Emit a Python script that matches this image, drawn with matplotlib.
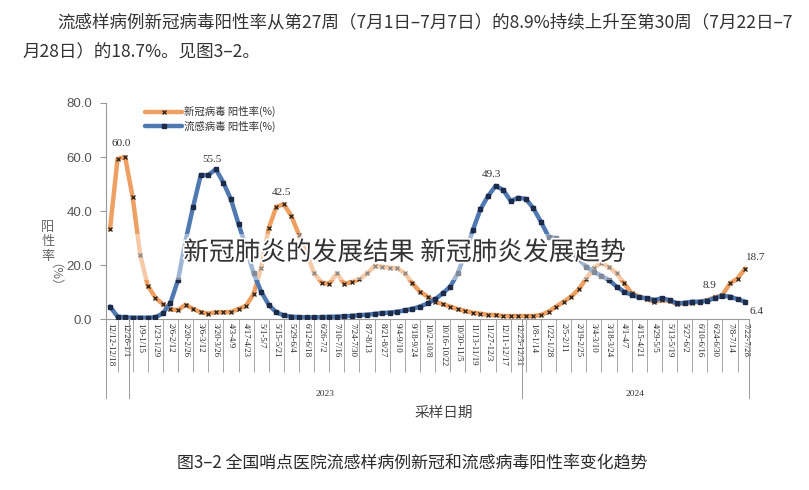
import matplotlib.pyplot as plt
import matplotlib.patheffects as pe
from matplotlib.lines import Line2D
from matplotlib.patches import Rectangle

plt.rcParams['font.family'] = ['Noto Sans CJK SC', 'DejaVu Sans']

# weekly labels (every second week is shown on the axis)
week_labels = ['12/12-12/18', '12/26-1/1', '1/9-1/15', '1/23-1/29', '2/6-2/12', '2/20-2/26',
               '3/6-3/12', '3/20-3/26', '4/3-4/9', '4/17-4/23', '5/1-5/7', '5/15-5/21',
               '5/29-6/4', '6/12-6/18', '6/26-7/2', '7/10-7/16', '7/24-7/30', '8/7-8/13',
               '8/21-8/27', '9/4-9/10', '9/18-9/24', '10/2-10/8', '10/16-10/22', '10/30-11/5',
               '11/13-11/19', '11/27-12/3', '12/11-12/17', '12/25-12/31', '1/8-1/14', '1/22-1/28',
               '2/5-2/11', '2/19-2/25', '3/4-3/10', '3/18-3/24', '4/1-4/7', '4/15-4/21',
               '4/29-5/5', '5/13-5/19', '5/27-6/2', '6/10-6/16', '6/24-6/30', '7/8-7/14',
               '7/22-7/28']

# positivity rates (%), 85 weeks from 2022-12-12 to 2024-07-28
covid_rate = [33.2, 59.3, 60.0, 45.1, 23.7, 12.3, 7.9, 5.5, 3.6, 3.3,
              5.3, 3.7, 2.5, 2.0, 2.5, 2.5, 2.6, 3.7, 4.9, 9.3,
              19.0, 33.7, 41.6, 42.5, 38.1, 31.1, 24.6, 16.9, 13.5, 13.0,
              16.9, 13.0, 13.8, 14.7, 16.9, 19.6, 19.4, 19.0, 18.8, 16.9,
              13.2, 10.1, 8.3, 6.4, 5.5, 4.6, 3.6, 3.0, 2.3, 2.0,
              1.5, 1.5, 1.1, 1.1, 1.1, 1.1, 1.1, 1.5, 2.7, 4.6,
              6.4, 8.3, 11.0, 15.0, 19.0, 20.8, 19.2, 16.9, 13.2, 9.5,
              8.3, 7.3, 6.4, 7.0, 6.7, 5.5, 5.8, 6.0, 6.4, 7.0,
              8.0, 8.9, 13.2, 15.0, 18.7]
flu_rate = [4.6, 0.9, 0.6, 0.5, 0.5, 0.5, 0.6, 2.1, 6.0, 14.4,
            29.0, 41.6, 53.3, 53.3, 55.5, 50.5, 44.3, 35.2, 26.5, 16.9,
            10.1, 5.2, 2.5, 1.3, 0.9, 0.7, 0.6, 0.6, 0.7, 0.8,
            0.9, 1.0, 1.2, 1.4, 1.6, 1.9, 2.2, 2.4, 2.7, 3.2,
            3.8, 4.6, 5.8, 7.3, 9.5, 12.0, 16.9, 24.5, 33.0, 40.7,
            45.5, 49.3, 47.8, 43.7, 44.9, 44.5, 41.0, 36.0, 30.5, 29.9,
            28.0, 24.9, 22.1, 19.4, 17.5, 16.0, 14.4, 12.0, 10.1, 8.9,
            8.0, 7.7, 7.0, 7.7, 7.0, 5.8, 6.0, 6.4, 6.4, 6.8,
            7.7, 8.6, 8.3, 7.3, 6.4]
years = ['2023', '2024']
year_bounds = [2.5, 54.5, 84.5]

weeks = list(range(len(covid_rate)))

fig = plt.figure(figsize=(8.09, 4.9), dpi=100)
ax = fig.add_axes([106.2 / 809, 171 / 490, 642.7 / 809, 216 / 490])

orange = '#EE9F61'
blue = '#5079B2'
ax.plot(weeks, covid_rate, color=orange, lw=3.2, marker='x', ms=3.0, mec='#3b2a1c', mew=1.0,
        label='新冠病毒 阳性率(%)', solid_capstyle='round', zorder=3)
ax.plot(weeks, flu_rate, color=blue, lw=3.2, marker='s', ms=2.2, mec='#1d2b48', mfc='#1d2b48',
        label='流感病毒 阳性率(%)', solid_capstyle='round', zorder=3)

ax.set_xlim(-0.5, 84.5)
ax.set_ylim(0, 80)
ax.set_yticks([0, 20, 40, 60, 80])
ax.set_yticklabels(['0.0', '20.0', '40.0', '60.0', '80.0'], family=['Liberation Sans'],
                   fontsize=9.5, color='#555555')
ax.tick_params(axis='y', length=4, color='#999999', width=0.8, pad=6)

ax.set_xticks(weeks[::2])
ax.set_xticklabels(week_labels, rotation=-90, family=['Liberation Serif'], fontsize=6.3,
                   color='#222222')
ax.tick_params(axis='x', which='major', length=0, pad=3)
ax.set_xticks(weeks[1::2], minor=True)
ax.tick_params(axis='x', which='minor', length=38, color='#999999', width=0.6)

for side in ['top', 'right']:
    ax.spines[side].set_visible(False)
ax.spines['left'].set_color('#999999')
ax.spines['bottom'].set_color('#999999')
ax.spines['left'].set_linewidth(0.8)
ax.spines['bottom'].set_linewidth(0.8)

# year separators of the two-level axis
xtr = ax.get_xaxis_transform()
for b in [-0.5] + year_bounds:
    ax.add_line(Line2D([b, b], [0, -0.366], transform=xtr, color='#999999', lw=0.7,
                       clip_on=False))
for i, yr in enumerate(years):
    mid = (year_bounds[i] + year_bounds[i + 1]) / 2
    ax.text(mid, -0.345, yr, transform=xtr, ha='center', va='center', fontsize=6.8,
            family=['Liberation Serif'], color='#333333')

# value labels
lab = dict(fontsize=8, family=['Liberation Serif'], color='#333333', ha='center',
           va='center', textcoords='offset points', annotation_clip=False)
ax.annotate(f'{covid_rate[2]:.1f}', (2, covid_rate[2]), xytext=(-2.5, 10), **lab)
ax.annotate(f'{flu_rate[14]:.1f}', (14, flu_rate[14]), xytext=(-3, 7), **lab)
ax.annotate(f'{covid_rate[23]:.1f}', (23, covid_rate[23]), xytext=(-2, 8.4), **lab)
ax.annotate(f'{flu_rate[51]:.1f}', (51, flu_rate[51]), xytext=(-3, 8.4), **lab)
ax.annotate(f'{covid_rate[84]:.1f}', (84, covid_rate[84]), xytext=(8, 8), **lab)
ax.annotate(f'{covid_rate[81]:.1f}', (81, covid_rate[81]), xytext=(-9, 7), **lab)
ax.annotate(f'{flu_rate[84]:.1f}', (84, flu_rate[84]), xytext=(8.5, -7), **lab)

leg = ax.legend(loc='upper left', bbox_to_anchor=(0.06, 0.985), frameon=False, fontsize=7.5,
                handlelength=3.6, handletextpad=0.2, borderpad=0, borderaxespad=0,
                labelspacing=0.35)
for t in leg.get_texts():
    t.set_color('#333333')

# y label, stacked characters
fig.text(48 / 809, 1 - 242 / 490, '阳\n性\n率', ha='center', va='center', fontsize=9.5,
         color='#666666', linespacing=1.15)
fig.text(48 / 809, 1 - 281 / 490, '（%）', ha='center', va='center', fontsize=9,
         color='#666666', rotation=-90)

fig.text(444 / 809, 1 - 413 / 490, '采样日期', ha='center', va='center', fontsize=10.5,
         color='#444444')

fig.text(57 / 809, 1 - 22 / 490,
         '流感样病例新冠病毒阳性率从第27周（7月1日–7月7日）的8.9%持续上升至第30周（7月22日–7',
         ha='left', va='center', fontsize=12.6, color='#333333')
fig.text(22 / 809, 1 - 52 / 490, '月28日）的18.7%。见图3–2。', ha='left', va='center',
         fontsize=12.6, color='#333333')

fig.text(412 / 809, 1 - 463 / 490, '图3–2 全国哨点医院流感样病例新冠和流感病毒阳性率变化趋势',
         ha='center', va='center', fontsize=12.2, color='#2a2a2a', fontweight='medium')

# watermark band and text laid over the chart
fig.patches.append(Rectangle((110 / 809, 1 - 280 / 490), 530 / 809, 46 / 490,
                             transform=fig.transFigure, facecolor='white', alpha=0.45,
                             edgecolor='none', zorder=5))
fig.text(405 / 809, 1 - 253 / 490, '新冠肺炎的发展结果 新冠肺炎发展趋势', ha='center',
         va='center', fontsize=18.5, color='#333333', zorder=6,
         path_effects=[pe.withStroke(linewidth=2.5, foreground='white')])

fig.savefig('out.png', dpi=100)
